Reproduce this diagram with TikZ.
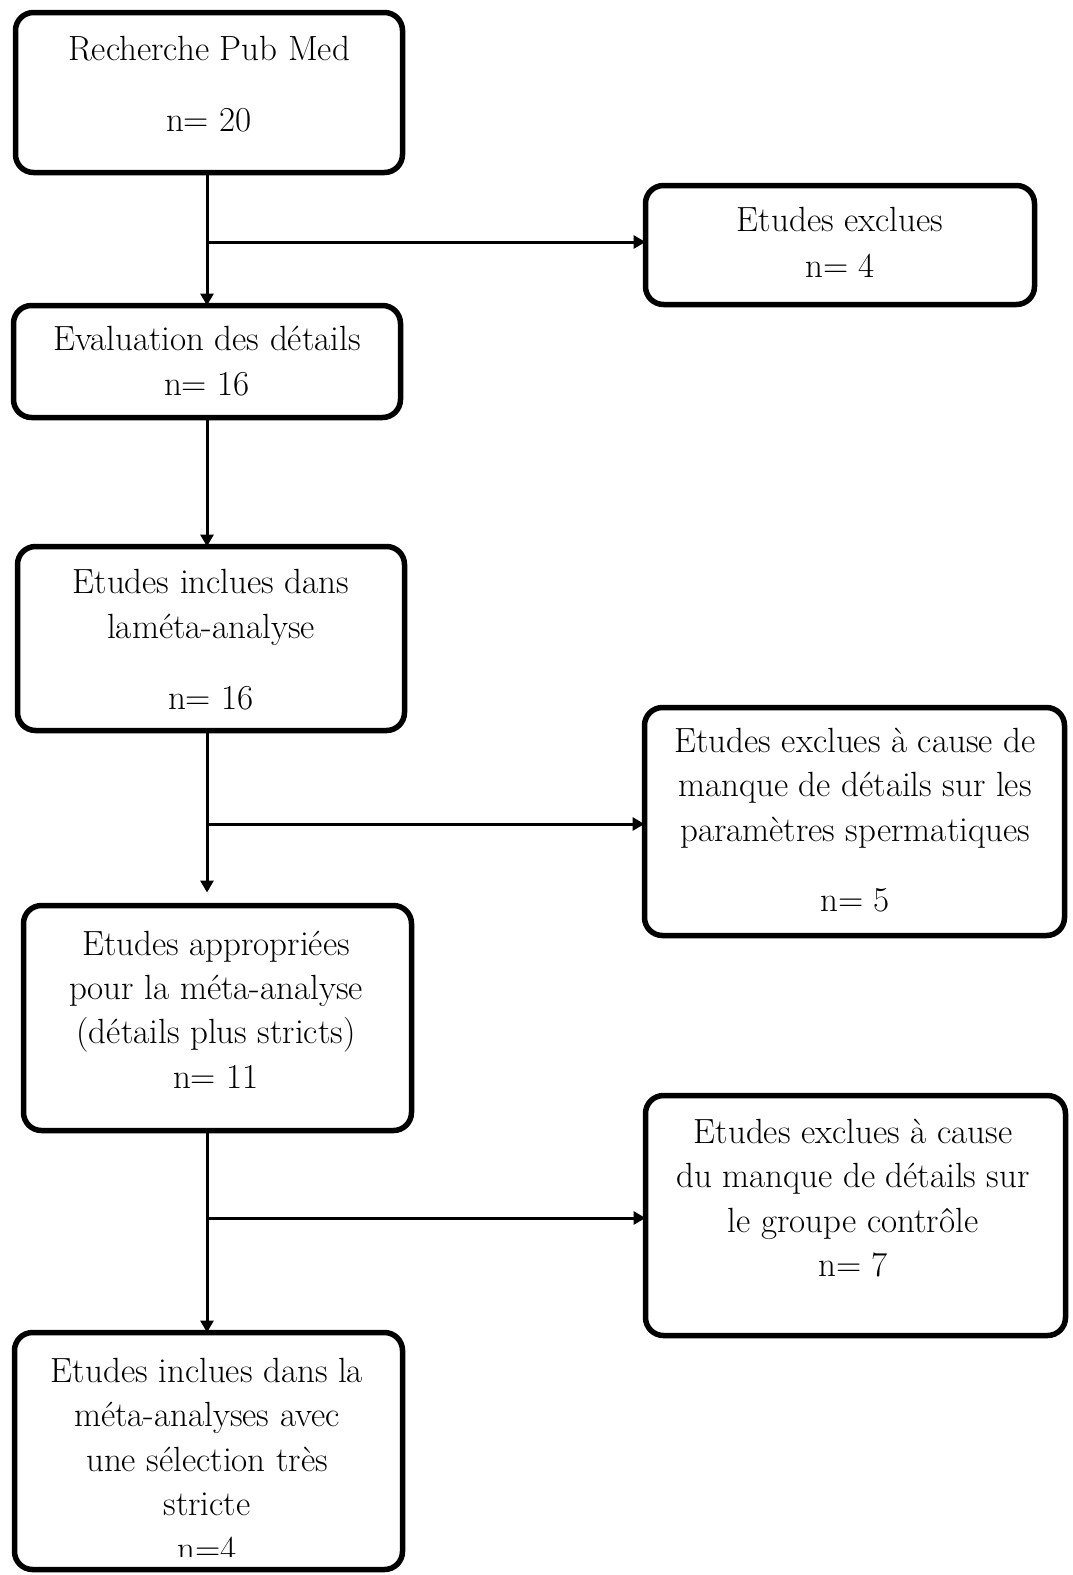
\documentclass[tikz,border=0pt]{standalone}
\usepackage{fontspec}
\usetikzlibrary{arrows.meta}
\begin{document}
\begin{tikzpicture}[x=1pt,y=-1pt,
  box/.style={draw=black, line width=5.5pt, rounded corners=18pt, inner sep=0pt, outer sep=0pt},
  txt/.style={align=center, anchor=base, inner sep=0pt, font=\fontsize{35}{44.4}\selectfont},
  arr/.style={line width=3pt, -{Triangle[length=12pt,width=13pt]}}]
\fill[white] (0,0) rectangle (1072,1575);
\useasboundingbox (0,0) rectangle (1072,1575);

% boxes
\node[box, minimum width=387pt, minimum height=160pt] (b1) at (209,92.5) {};
\node[box, minimum width=389pt, minimum height=119pt] (e1) at (840,245) {};
\node[box, minimum width=387pt, minimum height=112pt] (b2) at (207,361.5) {};
\node[box, minimum width=387pt, minimum height=184pt] (b3) at (211,638.5) {};
\node[box, minimum width=420pt, minimum height=228pt] (e2) at (854.5,821.5) {};
\node[box, minimum width=388pt, minimum height=225pt] (b4) at (217.5,1018) {};
\node[box, minimum width=420pt, minimum height=240pt] (e3) at (855.5,1215.5) {};
\node[box, minimum width=388pt, minimum height=237pt] (b5) at (208.5,1451) {};

% texts (anchor base = baseline of the last line)
\node[txt] (t1) at (209,131) {Recherche Pub Med\\[26.6pt] n= 20};
\node[txt] (te1) at (840,277.5) {Etudes exclues\\[1.5pt] n= 4};
\node[txt] (t2) at (207,395) {Evaluation des détails\\ n= 16};
\node[txt] (t3) at (211,709) {Etudes inclues dans\\ laméta-analyse\\[26.3pt] n= 16};
\node[txt] (te2) at (855,911.7) {Etudes exclues à cause de\\ manque de détails sur les\\ paramètres spermatiques\\[26pt] n= 5};
\node[txt] (t4) at (216,1088.3) {Etudes appropriées\\ pour la méta-analyse\\ (détails plus stricts)\\ n= 11};
\node[txt] (te3) at (853,1276.7) {Etudes exclues à cause\\ du manque de détails sur\\ le groupe contrôle\\ n= 7};
\begin{scope}
\clip (0,0) rectangle (1072,1556);
\node[txt] (t5) at (207,1560) {Etudes inclues dans la\\ méta-analyses avec\\ une sélection très\\ stricte\\ n=4};
\end{scope}

% connectors
\coordinate (j1) at (207,242);
\coordinate (j2) at (207,824);
\coordinate (j3) at (207,1218);
\draw[arr] (b1.south -| j1) -- (b2.north -| j1);
\draw[arr] (j1) -- (j1 -| e1.west);
\draw[arr] (b2.south -| j1) -- (b3.north -| j1);
\draw[arr, shorten >=13pt] (b3.south -| j2) -- (b4.north -| j2);
\draw[arr] (j2) -- (j2 -| e2.west);
\draw[arr] (b4.south -| j3) -- (b5.north -| j3);
\draw[arr] (j3) -- (j3 -| e3.west);
\end{tikzpicture}
\end{document}
